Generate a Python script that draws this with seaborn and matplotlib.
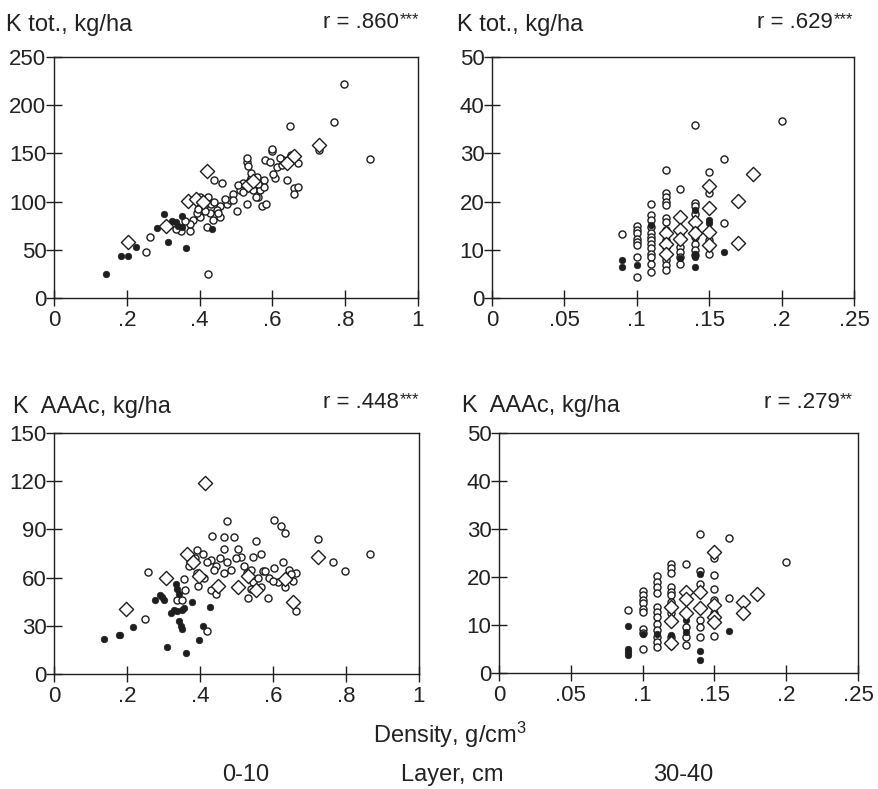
import numpy as np
import pandas as pd
import matplotlib
matplotlib.use("Agg")
import matplotlib.pyplot as plt
import seaborn as sns

# ---- data: density (g/cm3) vs potassium (kg/ha) ----
# Layer 0-10 cm, K total
tl_open_x = [.797, .768, .869, .649, .727, .424, .254, .263, .439, .461, .598, .598, .529, .534,
             .580, .612, .628, .607, .639, .658, .671, .660, .669, .571, .583, .502, .474, .483,
             .456, .447, .511, .520, .548, .566, .561, .529, .506, .493, .401, .424, .412, .428,
             .401, .383, .373, .350, .419, .438, .456, .392, .373, .594, .603, .626, .548, .557,
             .576, .576, .555, .493, .470, .410, .430, .395, .415, .440, .520, .540, .560, .335,
             .360, .540, .530, .650, .620, .450]
tl_open_y = [222, 183, 144, 178, 154, 25, 48, 63, 122, 119, 153, 155, 141, 137,
             143, 136, 143, 124, 122, 114, 115, 108, 140, 95, 97, 90, 98, 102,
             95, 91, 112, 119, 112, 112, 105, 98, 117, 108, 105, 105, 95, 88,
             84, 81, 70, 70, 74, 81, 84, 88, 77, 141, 129, 138, 122, 126,
             122, 115, 105, 102, 103, 100, 97, 92, 90, 100, 110, 125, 118, 72,
             80, 130, 145, 148, 145, 88]
tl_fill_x = [.144, .183, .204, .224, .284, .303, .314, .334, .353, .353, .364, .433, .340, .325]
tl_fill_y = [25, 44, 44, 53, 73, 87, 58, 79, 85, 74, 52, 72, 75, 80]
tl_diam_x = [.204, .309, .369, .391, .421, .410, .534, .548, .640, .658, .727]
tl_diam_y = [58, 75, 101, 103, 132, 100, 117, 121, 140, 147, 159]

# Layer 30-40 cm, K total
tr_open_x = ([.09] + [.10] * 8 + [.11] * 13 + [.12] * 15 + [.13] * 8 + [.14] * 9 + [.15] * 6
             + [.16] * 2 + [.20])
tr_open_y = ([13.2]
             + [14.9, 14.1, 13.4, 12.3, 11.6, 11.0, 8.5, 4.4]
             + [19.5, 17.2, 16.2, 14.8, 13.4, 12.7, 12.0, 11.3, 10.3, 9.2, 8.5, 7.1, 5.4]
             + [26.5, 21.8, 21.0, 20.0, 19.3, 16.5, 15.8, 14.1, 13.4, 12.0, 10.6, 9.2, 7.8, 6.8, 5.8]
             + [22.6, 16.9, 13.4, 12.0, 10.6, 9.6, 8.5, 7.1]
             + [35.9, 19.8, 19.1, 17.5, 14.1, 12.7, 11.3, 9.9, 8.9]
             + [26.2, 21.8, 13.4, 12.0, 10.6, 9.2]
             + [28.8, 15.5]
             + [36.8])
tr_fill_x = [.09, .09, .10, .11, .12, .12, .13, .14, .14, .14, .14, .15, .15, .16]
tr_fill_y = [7.8, 6.4, 6.8, 15.1, 10.3, 11.0, 8.2, 18.2, 9.2, 8.5, 6.4, 16.2, 15.6, 9.6]
tr_diam_x = [.12, .12, .12, .13, .13, .13, .14, .14, .15, .15, .15, .15, .17, .17, .18]
tr_diam_y = [13.4, 11.3, 9.2, 16.9, 14.1, 12.3, 15.8, 13.4, 23.2, 18.6, 13.7, 11.0, 20.1, 11.4, 25.7]

# Layer 0-10 cm, K AAAc
bl_open_x = [.258, .248, .419, .338, .474, .434, .465, .494, .554, .603, .623, .632, .722, .764,
             .796, .867, .664, .586, .531, .393, .407, .430, .444, .466, .475, .503, .513, .545,
             .568, .572, .577, .604, .627, .645, .655, .664, .632, .613, .567, .545, .540, .485,
             .466, .439, .430, .445, .356, .370, .393, .410, .360, .385, .420, .520, .530, .560,
             .590, .600, .640, .650, .500, .455, .395, .350, .540]
bl_open_y = [63.5, 34, 27, 46, 95, 86, 85, 85, 83, 96, 92, 88, 84, 70,
             64, 75, 39, 47, 47, 77, 75, 71, 67, 78, 70, 78, 73, 73,
             75, 64, 64, 66, 70, 65, 58, 63, 54, 57, 54, 57, 53, 65,
             63, 65, 52, 50, 59, 67, 63, 60, 52, 72, 70, 67, 63, 60,
             60, 58, 60, 62, 72, 72, 55, 46, 65]
bl_fill_x = [.137, .177, .182, .216, .278, .297, .301, .310, .333, .337, .342, .328, .337, .351,
             .356, .342, .347, .351, .379, .361, .397, .407, .427, .320, .290]
bl_fill_y = [22, 24, 24, 29, 46, 48, 46, 17, 56, 53, 50, 40, 39, 40,
             41, 33, 30, 28, 45, 13, 21, 30, 42, 38, 49]
bl_diam_x = [.197, .307, .365, .382, .397, .414, .448, .503, .531, .554, .632, .655, .722]
bl_diam_y = [40.5, 60, 75, 70, 61, 119, 55, 54, 61, 52, 59, 45, 73]

# Layer 30-40 cm, K AAAc
br_open_x = ([.09] + [.10] * 9 + [.11] * 12 + [.12] * 12 + [.13] * 5 + [.14] * 7 + [.15] * 6
             + [.16] * 2 + [.20])
br_open_y = ([13.2]
             + [17.1, 16.2, 15.3, 14.5, 13.4, 12.7, 9.1, 8.4, 4.9]
             + [20.2, 19.0, 18.0, 16.6, 13.8, 12.7, 11.6, 10.3, 8.9, 7.5, 6.5, 5.4]
             + [22.7, 21.8, 20.9, 18.0, 16.9, 16.2, 14.8, 12.4, 10.7, 7.5, 6.5, 5.8]
             + [22.8, 12.4, 9.6, 7.5, 5.8]
             + [28.9, 21.3, 18.5, 16.6, 11.1, 9.6, 7.4]
             + [24.0, 20.4, 17.6, 15.2, 12.4, 7.7]
             + [28.2, 15.7]
             + [23.2])
br_fill_x = [.09, .09, .09, .09, .10, .11, .12, .13, .13, .14, .14, .14, .15, .15, .16]
br_fill_y = [9.7, 5.1, 4.4, 3.7, 8.1, 8.2, 8.0, 11.0, 8.6, 20.6, 4.6, 2.8, 11.7, 14.6, 8.7]
br_diam_x = [.12, .12, .12, .13, .13, .13, .14, .14, .15, .15, .15, .15, .17, .17, .18]
br_diam_y = [13.8, 10.9, 6.3, 16.9, 15.5, 12.4, 16.9, 13.6, 25.3, 14.1, 11.7, 10.7, 14.8, 12.4, 16.4]

titles = ["K tot., kg/ha", "K tot., kg/ha", "K  AAAc, kg/ha", "K  AAAc, kg/ha"]
r_values = [".860", ".629", ".448", ".279"]
r_stars = ["***", "***", "***", "**"]

x_ticks_top = [0, .2, .4, .6, .8, 1]
x_labels_top = ["0", ".2", ".4", ".6", ".8", "1"]
x_ticks_deep = [0, .05, .1, .15, .2, .25]
x_labels_deep = ["0", ".05", ".1", ".15", ".2", ".25"]
y_ticks = [[0, 50, 100, 150, 200, 250], [0, 10, 20, 30, 40, 50],
           [0, 30, 60, 90, 120, 150], [0, 10, 20, 30, 40, 50]]

# ---- styling ----
sns.set_theme(style="white")
plt.rcParams["font.family"] = ["Liberation Sans", "DejaVu Sans"]
plt.rcParams["mathtext.fontset"] = "custom"
plt.rcParams["mathtext.rm"] = "Liberation Sans"
plt.rcParams["mathtext.it"] = "Liberation Sans"
plt.rcParams["mathtext.default"] = "rm"

W, H = 879, 789
fig = plt.figure(figsize=(W / 100, H / 100), dpi=100)
fig.patch.set_facecolor("white")
renderer = fig.canvas.get_renderer()

INK = "#1e1e1e"
TXT = "#222222"


def px_axes(left, top, right, bottom):
    return fig.add_axes([left / W, 1 - bottom / H, (right - left) / W, (bottom - top) / H])


boxes = [(54, 57, 418, 298), (492, 57, 854, 298), (54, 433, 419, 674), (499, 433, 858, 673)]
panels = [
    (tl_open_x, tl_open_y, tl_fill_x, tl_fill_y, tl_diam_x, tl_diam_y),
    (tr_open_x, tr_open_y, tr_fill_x, tr_fill_y, tr_diam_x, tr_diam_y),
    (bl_open_x, bl_open_y, bl_fill_x, bl_fill_y, bl_diam_x, bl_diam_y),
    (br_open_x, br_open_y, br_fill_x, br_fill_y, br_diam_x, br_diam_y),
]
title_pos = [(6, 31), (457, 31), (13, 413), (462, 412)]
r_pos = [(419, 28), (853, 28), (419, 408), (853, 408)]

for i, (box, pdata) in enumerate(zip(boxes, panels)):
    ax = px_axes(*box)
    ox, oy, fx, fy, dx, dy = pdata
    sns.scatterplot(x=ox, y=oy, ax=ax, marker="o", s=26, facecolor="white",
                    edgecolor=INK, linewidth=1.0, zorder=3)
    sns.scatterplot(x=fx, y=fy, ax=ax, marker="o", s=22, color=INK,
                    edgecolor=INK, linewidth=0.5, zorder=4)
    sns.scatterplot(x=dx, y=dy, ax=ax, marker="D", s=52, facecolor="white",
                    edgecolor=INK, linewidth=1.0, zorder=5)

    deep = i % 2 == 1
    xt = x_ticks_deep if deep else x_ticks_top
    xl = x_labels_deep if deep else x_labels_top
    ax.set_xlim(0, xt[-1])
    ax.set_ylim(0, y_ticks[i][-1])
    ax.set_xticks(xt)
    ax.set_xticklabels(xl)
    ax.set_yticks(y_ticks[i])
    ax.set_yticklabels([str(v) for v in y_ticks[i]])
    ax.tick_params(axis="both", which="major", direction="inout", length=11, width=1.0,
                   color=INK, labelsize=16, labelcolor=TXT,
                   bottom=True, left=True, top=False, right=False)
    ax.tick_params(axis="y", pad=0)
    ax.tick_params(axis="x", pad=3)
    for sp in ax.spines.values():
        sp.set_visible(True)
        sp.set_color(INK)
        sp.set_linewidth(1.0)
    ax.set_xlabel("")
    ax.set_ylabel("")
    ax.grid(False)

    tx, ty = title_pos[i]
    fig.text(tx / W, 1 - ty / H, titles[i], fontsize=17, color=TXT,
             ha="left", va="baseline")
    # correlation coefficient with significance stars set as a raised suffix
    rx, ry = r_pos[i]
    stars = fig.text(rx / W, 1 - (ry - 4) / H, r_stars[i], fontsize=12, color=TXT,
                     ha="right", va="baseline")
    sx0 = stars.get_window_extent(renderer=renderer).x0
    fig.text((sx0 - 0.5) / W, 1 - ry / H, "r = " + r_values[i], fontsize=16, color=TXT,
             ha="right", va="baseline")

fig.text(450 / W, 1 - 743 / H, r"Density, g/cm$^{3}$", fontsize=17, color=TXT,
         ha="center", va="baseline")
fig.text(246 / W, 1 - 781 / H, "0-10", fontsize=17, color=TXT, ha="center", va="baseline")
fig.text(452 / W, 1 - 781 / H, "Layer, cm", fontsize=17, color=TXT, ha="center",
         va="baseline")
fig.text(683 / W, 1 - 781 / H, "30-40", fontsize=17, color=TXT, ha="center",
         va="baseline")

fig.savefig("out.png", dpi=100, facecolor="white")
